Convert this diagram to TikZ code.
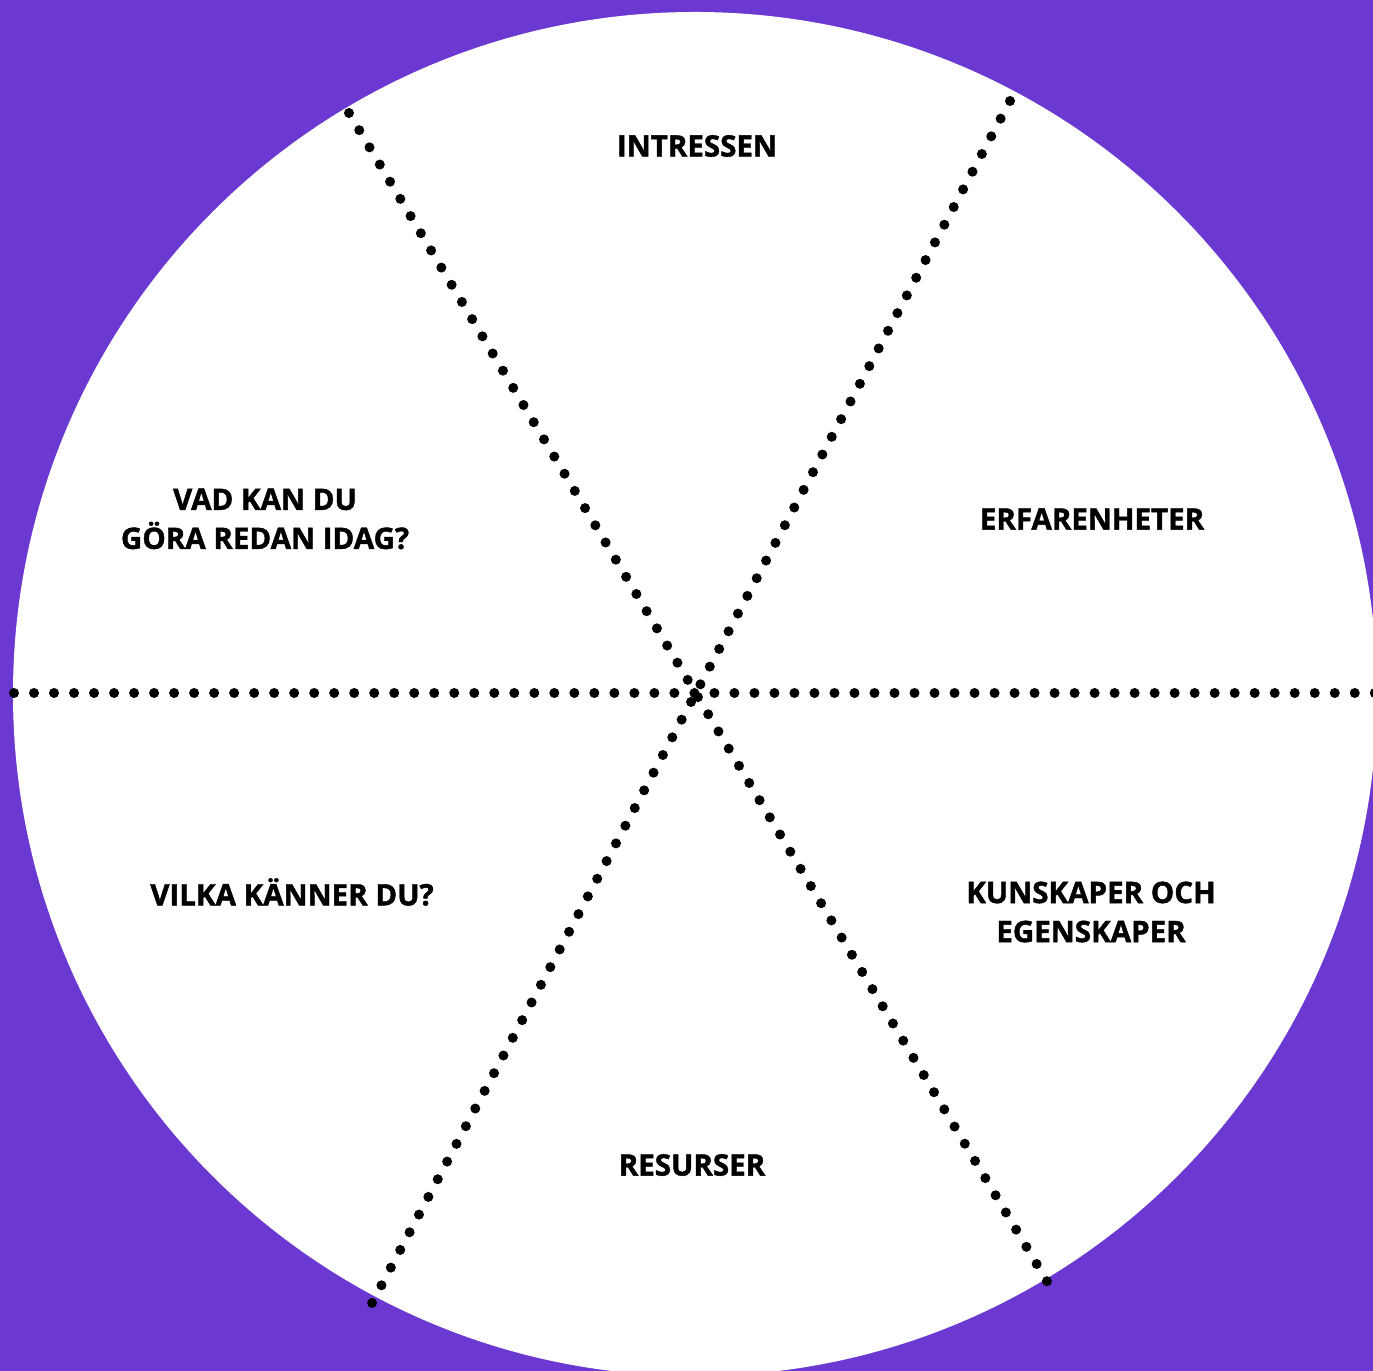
\documentclass[tikz,border=0pt]{standalone}
\usepackage{fontspec}
\setmainfont{Open Sans}[BoldFeatures={FakeBold=1.4}]
\definecolor{wheelpurple}{RGB}{107,56,209}
\begin{document}
\begin{tikzpicture}[x=0.01cm, y=-0.01cm,
    every node/.style={font=\bfseries\fontsize{8.4}{11.1}\selectfont, align=center, inner sep=0pt},
    dots/.style={line width=0.1cm, line cap=round, dash pattern=on 0pt off 0.2cm}]
            \useasboundingbox (0,0) rectangle (1373,1371);
            \clip (0,0) rectangle (1373,1371);
            \fill[wheelpurple] (0,0) rectangle (1373,1371);
            \fill[white] (695,694) circle (682);
            % Spoke ends
            \coordinate (w) at (14,693);
            \coordinate (e) at (1385,693);
            \coordinate (nw) at (349,113);
            \coordinate (se) at (1048,1283);
            \coordinate (ne) at (1010,101);
            \coordinate (sw) at (371,1305);
            \draw[dots] (w) -- (e);
            \draw[dots] (nw) -- (se);
            \draw[dots] (ne) -- (sw);
            % Labels
            \node (intressen) at (697,146) {INTRESSEN};
            \node (erfarenheter) at (1092,519) {ERFARENHETER};
            \node (kunskaper) at (1091,912) {KUNSKAPER OCH\\EGENSKAPER};
            \node (resurser) at (692,1165) {RESURSER};
            \node (vilka) at (292,892) {VILKA KÄNNER DU?};
            \node (redan) at (265,519) {VAD KAN DU\\GÖRA REDAN IDAG?};
          \end{tikzpicture}
\end{document}
